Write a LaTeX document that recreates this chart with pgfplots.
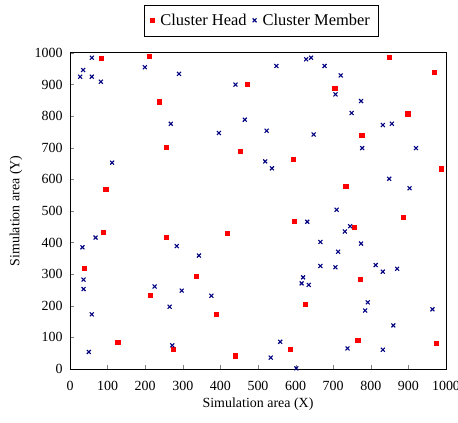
\documentclass[border=0pt]{standalone}
\usepackage{pgfplots}
\pgfplotsset{compat=1.18}
\usepackage{fontspec}
\setmainfont{Liberation Serif}
\definecolor{chred}{RGB}{255,0,0}
\definecolor{chnavy}{RGB}{0,0,128}
\begin{document}
\begin{tikzpicture}
\begin{axis}[
  scale only axis, width=376bp, height=316bp,
  xmin=0, xmax=1000, ymin=0, ymax=1000,
  xtick distance=100, ytick distance=100,
  tick align=inside, xtick pos=bottom, ytick pos=left,
  major tick length=4bp,
  axis line style={line width=1pt},
  /pgf/number format/assume math mode=true,
  /pgf/number format/1000 sep={},
  tick label style={font=\fontsize{14}{16}\selectfont},
  yticklabel style={xshift=-4bp},
  xticklabel style={yshift=-9bp},
  xlabel={Simulation area (X)}, ylabel={Simulation area (Y)},
  xlabel style={font=\fontsize{14}{16}\selectfont, at={([yshift=-29bp]axis description cs:0.5,0)}, anchor=north, inner sep=0pt},
  ylabel style={font=\fontsize{14}{16}\selectfont, at={([xshift=-54bp]axis description cs:0,0.5)}, anchor=center, inner sep=0pt},
  legend style={at={([yshift=17bp]axis description cs:0.508,1)}, anchor=south, legend columns=2, draw=black,
    font=\fontsize{16.5}{18}\selectfont, inner xsep=6bp, inner ysep=7bp,
    /tikz/column sep=4bp},
  legend cell align=left,
]
\addplot[only marks, mark=square*, mark size=2.1pt, color=chred] coordinates {
(84,983) (210,991) (238,846) (255,702) (95,570) (471,902) (453,690) (88,434)
(38,319) (127,84) (256,417) (418,429) (335,293) (213,234) (389,174) (274,62)
(439,42) (593,663) (597,468) (704,889) (848,987) (969,940) (898,808) (776,739)
(987,634) (733,578) (886,481) (755,450) (772,285) (625,205) (585,63) (765,90)
(973,81)
};
\addlegendentry{Cluster Head\hspace{5bp}}
\addplot[only marks, mark=x, mark size=2.8pt, line width=1.1pt, color=chnavy] coordinates {
(58,985) (35,946) (27,925) (58,925) (82,909) (199,955) (290,934) (268,776)
(112,653) (396,747) (440,900) (465,789) (549,959) (628,980) (641,985) (677,959)
(720,929) (706,869) (774,848) (749,810) (832,772) (856,776) (523,754) (648,742)
(777,699) (920,699) (519,657) (537,635) (849,602) (903,572) (709,504)
(33,385) (68,416) (36,283) (36,253) (58,173) (50,54) (284,389) (343,359)
(225,261) (297,248) (376,232) (265,197) (272,75)
(631,466) (745,452) (731,435) (666,402) (774,397) (713,371) (666,326) (706,322)
(813,329) (832,308) (870,317) (620,290) (616,271) (635,266) (792,211) (785,185)
(964,189) (860,138) (559,86) (738,65) (832,61) (534,36) (602,2)
};
\addlegendentry{Cluster Member}
\end{axis}
\pgfresetboundingbox
\useasboundingbox (-70bp,-54bp) rectangle (388bp,369bp);
\end{tikzpicture}
\end{document}
